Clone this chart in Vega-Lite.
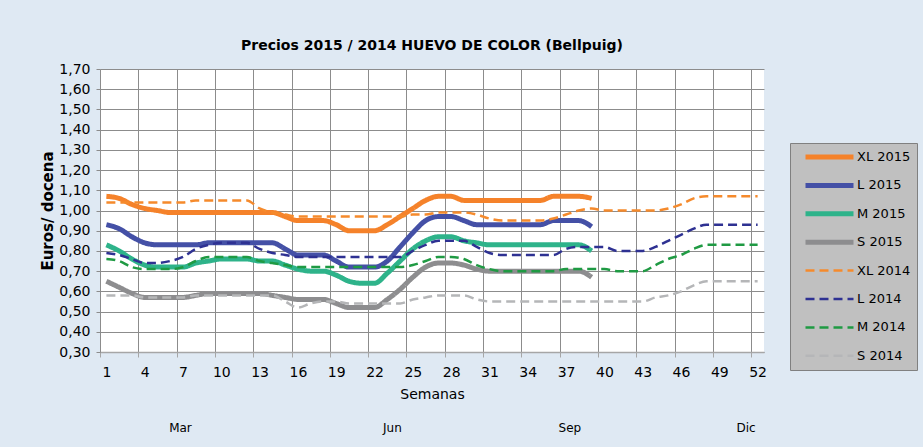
{
"$schema": "https://vega.github.io/schema/vega-lite/v6.json",
"width": 664, "height": 283,
"autosize": {"type": "none"},
"padding": {"left": 100, "top": 69, "right": 159, "bottom": 95},
"background": "#dfe9f3",
"title": {"text": "Precios 2015 / 2014 HUEVO DE COLOR (Bellpuig)", "font": "DejaVu Sans", "fontSize": 14, "fontWeight": "bold", "color": "#000000", "anchor": "middle", "offset": 9},
"config": {"view": {"fill": "white", "stroke": null}, "font": "DejaVu Sans"},
"datasets": {
"precios": [
{"semana":1,"serie":"XL 2015","precio":1.07},{"semana":2,"serie":"XL 2015","precio":1.06},{"semana":3,"serie":"XL 2015","precio":1.03},{"semana":4,"serie":"XL 2015","precio":1.01},{"semana":5,"serie":"XL 2015","precio":1.00},{"semana":6,"serie":"XL 2015","precio":0.99},{"semana":7,"serie":"XL 2015","precio":0.99},{"semana":8,"serie":"XL 2015","precio":0.99},{"semana":9,"serie":"XL 2015","precio":0.99},{"semana":10,"serie":"XL 2015","precio":0.99},{"semana":11,"serie":"XL 2015","precio":0.99},{"semana":12,"serie":"XL 2015","precio":0.99},{"semana":13,"serie":"XL 2015","precio":0.99},{"semana":14,"serie":"XL 2015","precio":0.99},{"semana":15,"serie":"XL 2015","precio":0.97},{"semana":16,"serie":"XL 2015","precio":0.95},{"semana":17,"serie":"XL 2015","precio":0.95},{"semana":18,"serie":"XL 2015","precio":0.95},{"semana":19,"serie":"XL 2015","precio":0.93},{"semana":20,"serie":"XL 2015","precio":0.90},{"semana":21,"serie":"XL 2015","precio":0.90},{"semana":22,"serie":"XL 2015","precio":0.90},{"semana":23,"serie":"XL 2015","precio":0.93},{"semana":24,"serie":"XL 2015","precio":0.97},{"semana":25,"serie":"XL 2015","precio":1.01},{"semana":26,"serie":"XL 2015","precio":1.05},{"semana":27,"serie":"XL 2015","precio":1.07},{"semana":28,"serie":"XL 2015","precio":1.07},{"semana":29,"serie":"XL 2015","precio":1.05},{"semana":30,"serie":"XL 2015","precio":1.05},{"semana":31,"serie":"XL 2015","precio":1.05},{"semana":32,"serie":"XL 2015","precio":1.05},{"semana":33,"serie":"XL 2015","precio":1.05},{"semana":34,"serie":"XL 2015","precio":1.05},{"semana":35,"serie":"XL 2015","precio":1.05},{"semana":36,"serie":"XL 2015","precio":1.07},{"semana":37,"serie":"XL 2015","precio":1.07},{"semana":38,"serie":"XL 2015","precio":1.07},{"semana":39,"serie":"XL 2015","precio":1.06},
{"semana":1,"serie":"L 2015","precio":0.93},{"semana":2,"serie":"L 2015","precio":0.91},{"semana":3,"serie":"L 2015","precio":0.87},{"semana":4,"serie":"L 2015","precio":0.84},{"semana":5,"serie":"L 2015","precio":0.83},{"semana":6,"serie":"L 2015","precio":0.83},{"semana":7,"serie":"L 2015","precio":0.83},{"semana":8,"serie":"L 2015","precio":0.83},{"semana":9,"serie":"L 2015","precio":0.84},{"semana":10,"serie":"L 2015","precio":0.84},{"semana":11,"serie":"L 2015","precio":0.84},{"semana":12,"serie":"L 2015","precio":0.84},{"semana":13,"serie":"L 2015","precio":0.84},{"semana":14,"serie":"L 2015","precio":0.84},{"semana":15,"serie":"L 2015","precio":0.81},{"semana":16,"serie":"L 2015","precio":0.78},{"semana":17,"serie":"L 2015","precio":0.78},{"semana":18,"serie":"L 2015","precio":0.78},{"semana":19,"serie":"L 2015","precio":0.75},{"semana":20,"serie":"L 2015","precio":0.72},{"semana":21,"serie":"L 2015","precio":0.72},{"semana":22,"serie":"L 2015","precio":0.72},{"semana":23,"serie":"L 2015","precio":0.75},{"semana":24,"serie":"L 2015","precio":0.82},{"semana":25,"serie":"L 2015","precio":0.89},{"semana":26,"serie":"L 2015","precio":0.95},{"semana":27,"serie":"L 2015","precio":0.97},{"semana":28,"serie":"L 2015","precio":0.97},{"semana":29,"serie":"L 2015","precio":0.95},{"semana":30,"serie":"L 2015","precio":0.93},{"semana":31,"serie":"L 2015","precio":0.93},{"semana":32,"serie":"L 2015","precio":0.93},{"semana":33,"serie":"L 2015","precio":0.93},{"semana":34,"serie":"L 2015","precio":0.93},{"semana":35,"serie":"L 2015","precio":0.93},{"semana":36,"serie":"L 2015","precio":0.95},{"semana":37,"serie":"L 2015","precio":0.95},{"semana":38,"serie":"L 2015","precio":0.95},{"semana":39,"serie":"L 2015","precio":0.92},
{"semana":1,"serie":"M 2015","precio":0.83},{"semana":2,"serie":"M 2015","precio":0.80},{"semana":3,"serie":"M 2015","precio":0.76},{"semana":4,"serie":"M 2015","precio":0.73},{"semana":5,"serie":"M 2015","precio":0.72},{"semana":6,"serie":"M 2015","precio":0.72},{"semana":7,"serie":"M 2015","precio":0.72},{"semana":8,"serie":"M 2015","precio":0.74},{"semana":9,"serie":"M 2015","precio":0.75},{"semana":10,"serie":"M 2015","precio":0.76},{"semana":11,"serie":"M 2015","precio":0.76},{"semana":12,"serie":"M 2015","precio":0.76},{"semana":13,"serie":"M 2015","precio":0.75},{"semana":14,"serie":"M 2015","precio":0.75},{"semana":15,"serie":"M 2015","precio":0.73},{"semana":16,"serie":"M 2015","precio":0.71},{"semana":17,"serie":"M 2015","precio":0.70},{"semana":18,"serie":"M 2015","precio":0.70},{"semana":19,"serie":"M 2015","precio":0.68},{"semana":20,"serie":"M 2015","precio":0.65},{"semana":21,"serie":"M 2015","precio":0.64},{"semana":22,"serie":"M 2015","precio":0.64},{"semana":23,"serie":"M 2015","precio":0.69},{"semana":24,"serie":"M 2015","precio":0.75},{"semana":25,"serie":"M 2015","precio":0.81},{"semana":26,"serie":"M 2015","precio":0.85},{"semana":27,"serie":"M 2015","precio":0.87},{"semana":28,"serie":"M 2015","precio":0.87},{"semana":29,"serie":"M 2015","precio":0.85},{"semana":30,"serie":"M 2015","precio":0.84},{"semana":31,"serie":"M 2015","precio":0.83},{"semana":32,"serie":"M 2015","precio":0.83},{"semana":33,"serie":"M 2015","precio":0.83},{"semana":34,"serie":"M 2015","precio":0.83},{"semana":35,"serie":"M 2015","precio":0.83},{"semana":36,"serie":"M 2015","precio":0.83},{"semana":37,"serie":"M 2015","precio":0.83},{"semana":38,"serie":"M 2015","precio":0.83},{"semana":39,"serie":"M 2015","precio":0.80},
{"semana":1,"serie":"S 2015","precio":0.65},{"semana":2,"serie":"S 2015","precio":0.62},{"semana":3,"serie":"S 2015","precio":0.59},{"semana":4,"serie":"S 2015","precio":0.57},{"semana":5,"serie":"S 2015","precio":0.57},{"semana":6,"serie":"S 2015","precio":0.57},{"semana":7,"serie":"S 2015","precio":0.57},{"semana":8,"serie":"S 2015","precio":0.58},{"semana":9,"serie":"S 2015","precio":0.59},{"semana":10,"serie":"S 2015","precio":0.59},{"semana":11,"serie":"S 2015","precio":0.59},{"semana":12,"serie":"S 2015","precio":0.59},{"semana":13,"serie":"S 2015","precio":0.59},{"semana":14,"serie":"S 2015","precio":0.58},{"semana":15,"serie":"S 2015","precio":0.57},{"semana":16,"serie":"S 2015","precio":0.56},{"semana":17,"serie":"S 2015","precio":0.56},{"semana":18,"serie":"S 2015","precio":0.56},{"semana":19,"serie":"S 2015","precio":0.54},{"semana":20,"serie":"S 2015","precio":0.52},{"semana":21,"serie":"S 2015","precio":0.52},{"semana":22,"serie":"S 2015","precio":0.52},{"semana":23,"serie":"S 2015","precio":0.56},{"semana":24,"serie":"S 2015","precio":0.61},{"semana":25,"serie":"S 2015","precio":0.67},{"semana":26,"serie":"S 2015","precio":0.72},{"semana":27,"serie":"S 2015","precio":0.74},{"semana":28,"serie":"S 2015","precio":0.74},{"semana":29,"serie":"S 2015","precio":0.73},{"semana":30,"serie":"S 2015","precio":0.71},{"semana":31,"serie":"S 2015","precio":0.70},{"semana":32,"serie":"S 2015","precio":0.70},{"semana":33,"serie":"S 2015","precio":0.70},{"semana":34,"serie":"S 2015","precio":0.70},{"semana":35,"serie":"S 2015","precio":0.70},{"semana":36,"serie":"S 2015","precio":0.70},{"semana":37,"serie":"S 2015","precio":0.70},{"semana":38,"serie":"S 2015","precio":0.70},{"semana":39,"serie":"S 2015","precio":0.67},
{"semana":1,"serie":"XL 2014","precio":1.04},{"semana":2,"serie":"XL 2014","precio":1.04},{"semana":3,"serie":"XL 2014","precio":1.04},{"semana":4,"serie":"XL 2014","precio":1.04},{"semana":5,"serie":"XL 2014","precio":1.04},{"semana":6,"serie":"XL 2014","precio":1.04},{"semana":7,"serie":"XL 2014","precio":1.04},{"semana":8,"serie":"XL 2014","precio":1.05},{"semana":9,"serie":"XL 2014","precio":1.05},{"semana":10,"serie":"XL 2014","precio":1.05},{"semana":11,"serie":"XL 2014","precio":1.05},{"semana":12,"serie":"XL 2014","precio":1.05},{"semana":13,"serie":"XL 2014","precio":1.01},{"semana":14,"serie":"XL 2014","precio":0.99},{"semana":15,"serie":"XL 2014","precio":0.98},{"semana":16,"serie":"XL 2014","precio":0.97},{"semana":17,"serie":"XL 2014","precio":0.97},{"semana":18,"serie":"XL 2014","precio":0.97},{"semana":19,"serie":"XL 2014","precio":0.97},{"semana":20,"serie":"XL 2014","precio":0.97},{"semana":21,"serie":"XL 2014","precio":0.97},{"semana":22,"serie":"XL 2014","precio":0.97},{"semana":23,"serie":"XL 2014","precio":0.97},{"semana":24,"serie":"XL 2014","precio":0.97},{"semana":25,"serie":"XL 2014","precio":0.98},{"semana":26,"serie":"XL 2014","precio":0.98},{"semana":27,"serie":"XL 2014","precio":0.99},{"semana":28,"serie":"XL 2014","precio":0.99},{"semana":29,"serie":"XL 2014","precio":0.99},{"semana":30,"serie":"XL 2014","precio":0.98},{"semana":31,"serie":"XL 2014","precio":0.96},{"semana":32,"serie":"XL 2014","precio":0.95},{"semana":33,"serie":"XL 2014","precio":0.95},{"semana":34,"serie":"XL 2014","precio":0.95},{"semana":35,"serie":"XL 2014","precio":0.95},{"semana":36,"serie":"XL 2014","precio":0.96},{"semana":37,"serie":"XL 2014","precio":0.98},{"semana":38,"serie":"XL 2014","precio":1.00},{"semana":39,"serie":"XL 2014","precio":1.01},{"semana":40,"serie":"XL 2014","precio":1.00},{"semana":41,"serie":"XL 2014","precio":1.00},{"semana":42,"serie":"XL 2014","precio":1.00},{"semana":43,"serie":"XL 2014","precio":1.00},{"semana":44,"serie":"XL 2014","precio":1.00},{"semana":45,"serie":"XL 2014","precio":1.01},{"semana":46,"serie":"XL 2014","precio":1.03},{"semana":47,"serie":"XL 2014","precio":1.06},{"semana":48,"serie":"XL 2014","precio":1.07},{"semana":49,"serie":"XL 2014","precio":1.07},{"semana":50,"serie":"XL 2014","precio":1.07},{"semana":51,"serie":"XL 2014","precio":1.07},{"semana":52,"serie":"XL 2014","precio":1.07},
{"semana":1,"serie":"L 2014","precio":0.79},{"semana":2,"serie":"L 2014","precio":0.78},{"semana":3,"serie":"L 2014","precio":0.76},{"semana":4,"serie":"L 2014","precio":0.74},{"semana":5,"serie":"L 2014","precio":0.74},{"semana":6,"serie":"L 2014","precio":0.75},{"semana":7,"serie":"L 2014","precio":0.77},{"semana":8,"serie":"L 2014","precio":0.81},{"semana":9,"serie":"L 2014","precio":0.83},{"semana":10,"serie":"L 2014","precio":0.84},{"semana":11,"serie":"L 2014","precio":0.84},{"semana":12,"serie":"L 2014","precio":0.84},{"semana":13,"serie":"L 2014","precio":0.81},{"semana":14,"serie":"L 2014","precio":0.79},{"semana":15,"serie":"L 2014","precio":0.78},{"semana":16,"serie":"L 2014","precio":0.77},{"semana":17,"serie":"L 2014","precio":0.77},{"semana":18,"serie":"L 2014","precio":0.77},{"semana":19,"serie":"L 2014","precio":0.77},{"semana":20,"serie":"L 2014","precio":0.77},{"semana":21,"serie":"L 2014","precio":0.77},{"semana":22,"serie":"L 2014","precio":0.77},{"semana":23,"serie":"L 2014","precio":0.77},{"semana":24,"serie":"L 2014","precio":0.77},{"semana":25,"serie":"L 2014","precio":0.80},{"semana":26,"serie":"L 2014","precio":0.83},{"semana":27,"serie":"L 2014","precio":0.85},{"semana":28,"serie":"L 2014","precio":0.85},{"semana":29,"serie":"L 2014","precio":0.85},{"semana":30,"serie":"L 2014","precio":0.82},{"semana":31,"serie":"L 2014","precio":0.79},{"semana":32,"serie":"L 2014","precio":0.78},{"semana":33,"serie":"L 2014","precio":0.78},{"semana":34,"serie":"L 2014","precio":0.78},{"semana":35,"serie":"L 2014","precio":0.78},{"semana":36,"serie":"L 2014","precio":0.78},{"semana":37,"serie":"L 2014","precio":0.81},{"semana":38,"serie":"L 2014","precio":0.82},{"semana":39,"serie":"L 2014","precio":0.82},{"semana":40,"serie":"L 2014","precio":0.82},{"semana":41,"serie":"L 2014","precio":0.80},{"semana":42,"serie":"L 2014","precio":0.80},{"semana":43,"serie":"L 2014","precio":0.80},{"semana":44,"serie":"L 2014","precio":0.82},{"semana":45,"serie":"L 2014","precio":0.85},{"semana":46,"serie":"L 2014","precio":0.88},{"semana":47,"serie":"L 2014","precio":0.91},{"semana":48,"serie":"L 2014","precio":0.93},{"semana":49,"serie":"L 2014","precio":0.93},{"semana":50,"serie":"L 2014","precio":0.93},{"semana":51,"serie":"L 2014","precio":0.93},{"semana":52,"serie":"L 2014","precio":0.93},
{"semana":1,"serie":"M 2014","precio":0.76},{"semana":2,"serie":"M 2014","precio":0.75},{"semana":3,"serie":"M 2014","precio":0.72},{"semana":4,"serie":"M 2014","precio":0.71},{"semana":5,"serie":"M 2014","precio":0.71},{"semana":6,"serie":"M 2014","precio":0.71},{"semana":7,"serie":"M 2014","precio":0.72},{"semana":8,"serie":"M 2014","precio":0.75},{"semana":9,"serie":"M 2014","precio":0.77},{"semana":10,"serie":"M 2014","precio":0.77},{"semana":11,"serie":"M 2014","precio":0.77},{"semana":12,"serie":"M 2014","precio":0.77},{"semana":13,"serie":"M 2014","precio":0.75},{"semana":14,"serie":"M 2014","precio":0.74},{"semana":15,"serie":"M 2014","precio":0.73},{"semana":16,"serie":"M 2014","precio":0.72},{"semana":17,"serie":"M 2014","precio":0.72},{"semana":18,"serie":"M 2014","precio":0.72},{"semana":19,"serie":"M 2014","precio":0.72},{"semana":20,"serie":"M 2014","precio":0.72},{"semana":21,"serie":"M 2014","precio":0.72},{"semana":22,"serie":"M 2014","precio":0.72},{"semana":23,"serie":"M 2014","precio":0.72},{"semana":24,"serie":"M 2014","precio":0.72},{"semana":25,"serie":"M 2014","precio":0.73},{"semana":26,"serie":"M 2014","precio":0.75},{"semana":27,"serie":"M 2014","precio":0.77},{"semana":28,"serie":"M 2014","precio":0.77},{"semana":29,"serie":"M 2014","precio":0.76},{"semana":30,"serie":"M 2014","precio":0.73},{"semana":31,"serie":"M 2014","precio":0.71},{"semana":32,"serie":"M 2014","precio":0.70},{"semana":33,"serie":"M 2014","precio":0.70},{"semana":34,"serie":"M 2014","precio":0.70},{"semana":35,"serie":"M 2014","precio":0.70},{"semana":36,"serie":"M 2014","precio":0.70},{"semana":37,"serie":"M 2014","precio":0.71},{"semana":38,"serie":"M 2014","precio":0.71},{"semana":39,"serie":"M 2014","precio":0.71},{"semana":40,"serie":"M 2014","precio":0.71},{"semana":41,"serie":"M 2014","precio":0.70},{"semana":42,"serie":"M 2014","precio":0.70},{"semana":43,"serie":"M 2014","precio":0.70},{"semana":44,"serie":"M 2014","precio":0.73},{"semana":45,"serie":"M 2014","precio":0.76},{"semana":46,"serie":"M 2014","precio":0.78},{"semana":47,"serie":"M 2014","precio":0.81},{"semana":48,"serie":"M 2014","precio":0.83},{"semana":49,"serie":"M 2014","precio":0.83},{"semana":50,"serie":"M 2014","precio":0.83},{"semana":51,"serie":"M 2014","precio":0.83},{"semana":52,"serie":"M 2014","precio":0.83},
{"semana":1,"serie":"S 2014","precio":0.58},{"semana":2,"serie":"S 2014","precio":0.58},{"semana":3,"serie":"S 2014","precio":0.58},{"semana":4,"serie":"S 2014","precio":0.57},{"semana":5,"serie":"S 2014","precio":0.57},{"semana":6,"serie":"S 2014","precio":0.57},{"semana":7,"serie":"S 2014","precio":0.57},{"semana":8,"serie":"S 2014","precio":0.58},{"semana":9,"serie":"S 2014","precio":0.58},{"semana":10,"serie":"S 2014","precio":0.58},{"semana":11,"serie":"S 2014","precio":0.58},{"semana":12,"serie":"S 2014","precio":0.58},{"semana":13,"serie":"S 2014","precio":0.58},{"semana":14,"serie":"S 2014","precio":0.58},{"semana":15,"serie":"S 2014","precio":0.55},{"semana":16,"serie":"S 2014","precio":0.52},{"semana":17,"serie":"S 2014","precio":0.54},{"semana":18,"serie":"S 2014","precio":0.55},{"semana":19,"serie":"S 2014","precio":0.55},{"semana":20,"serie":"S 2014","precio":0.54},{"semana":21,"serie":"S 2014","precio":0.54},{"semana":22,"serie":"S 2014","precio":0.54},{"semana":23,"serie":"S 2014","precio":0.54},{"semana":24,"serie":"S 2014","precio":0.54},{"semana":25,"serie":"S 2014","precio":0.56},{"semana":26,"serie":"S 2014","precio":0.57},{"semana":27,"serie":"S 2014","precio":0.58},{"semana":28,"serie":"S 2014","precio":0.58},{"semana":29,"serie":"S 2014","precio":0.58},{"semana":30,"serie":"S 2014","precio":0.56},{"semana":31,"serie":"S 2014","precio":0.55},{"semana":32,"serie":"S 2014","precio":0.55},{"semana":33,"serie":"S 2014","precio":0.55},{"semana":34,"serie":"S 2014","precio":0.55},{"semana":35,"serie":"S 2014","precio":0.55},{"semana":36,"serie":"S 2014","precio":0.55},{"semana":37,"serie":"S 2014","precio":0.55},{"semana":38,"serie":"S 2014","precio":0.55},{"semana":39,"serie":"S 2014","precio":0.55},{"semana":40,"serie":"S 2014","precio":0.55},{"semana":41,"serie":"S 2014","precio":0.55},{"semana":42,"serie":"S 2014","precio":0.55},{"semana":43,"serie":"S 2014","precio":0.55},{"semana":44,"serie":"S 2014","precio":0.57},{"semana":45,"serie":"S 2014","precio":0.58},{"semana":46,"serie":"S 2014","precio":0.60},{"semana":47,"serie":"S 2014","precio":0.63},{"semana":48,"serie":"S 2014","precio":0.65},{"semana":49,"serie":"S 2014","precio":0.65},{"semana":50,"serie":"S 2014","precio":0.65},{"semana":51,"serie":"S 2014","precio":0.65},{"semana":52,"serie":"S 2014","precio":0.65}
],
"meses": [{"mes":"Mar","semana":6.8},{"mes":"Jun","semana":23.4},{"mes":"Sep","semana":37.3},{"mes":"Dic","semana":51.1}]
},
"layer": [
{
"data": {"name": "precios"},
"mark": {"type": "line", "interpolate": "monotone", "strokeCap": "butt", "strokeJoin": "round"},
"encoding": {
"x": {"field": "semana", "type": "quantitative", "scale": {"domain": [0.5, 52.5], "nice": false, "zero": false},
 "axis": {"orient": "bottom", "values": [1,4,7,10,13,16,19,22,25,28,31,34,37,40,43,46,49,52], "tickCount": 18, "grid": false, "ticks": false, "domain": true, "domainColor": "#a6a6a6", "domainWidth": 1.5, "labelFont": "DejaVu Sans", "labelFontSize": 14, "labelColor": "#000000", "labelPadding": 13, "labelFlush": false, "labelOverlap": false, "title": "Semanas", "titleFont": "DejaVu Sans", "titleFontSize": 14, "titleFontWeight": "normal", "titleColor": "#000000", "titlePadding": 8}},
"y": {"field": "precio", "type": "quantitative", "scale": {"domain": [0.3, 1.7], "nice": false, "zero": false},
 "axis": {"values": [0.3,0.4,0.5,0.6,0.7,0.8,0.9,1.0,1.1,1.2,1.3,1.4,1.5,1.6,1.7], "tickCount": 15, "labelExpr": "replace(format(datum.value, '.2f'), '.', ',')", "grid": true, "gridColor": "#8c8c8c", "gridWidth": 1, "ticks": true, "tickColor": "#8c8c8c", "tickSize": 4, "domain": true, "domainColor": "#8c8c8c", "labelFont": "DejaVu Sans", "labelFontSize": 14, "labelColor": "#000000", "labelPadding": 6, "labelFlush": false, "labelOverlap": false, "title": "Euros/ docena", "titleFont": "DejaVu Sans", "titleFontSize": 15, "titleFontWeight": "bold", "titleColor": "#000000", "titlePadding": 3}},
"color": {"field": "serie", "type": "nominal",
 "scale": {"domain": ["XL 2015","L 2015","M 2015","S 2015","XL 2014","L 2014","M 2014","S 2014"], "range": ["#f5822a","#4450a6","#2eb38a","#8d8d8f","#f58a2c","#2e3192","#1f9a43","#b5b6b8"]},
 "legend": {"title": null, "orient": "none", "legendX": 690, "legendY": 74, "fillColor": "#c0c0c0", "strokeColor": "#808080", "padding": 6, "clipHeight": 16, "rowPadding": 12.4, "symbolType": "stroke", "symbolSize": 2304, "symbolOffset": 7, "labelOffset": 1, "labelFont": "DejaVu Sans", "labelFontSize": 13, "labelColor": "#000000"}},
"strokeDash": {"field": "serie", "type": "nominal",
 "scale": {"domain": ["XL 2015","L 2015","M 2015","S 2015","XL 2014","L 2014","M 2014","S 2014"], "range": [[1,0],[1,0],[1,0],[1,0],[9,5],[9,5],[9,5],[9,5]]},
 "legend": {"title": null, "orient": "none", "legendX": 690, "legendY": 74, "fillColor": "#c0c0c0", "strokeColor": "#808080", "padding": 6, "clipHeight": 16, "rowPadding": 12.4, "symbolType": "stroke", "symbolSize": 2304, "symbolOffset": 7, "labelOffset": 1, "labelFont": "DejaVu Sans", "labelFontSize": 13, "labelColor": "#000000"}},
"strokeWidth": {"field": "serie", "type": "nominal",
 "scale": {"type": "ordinal", "domain": ["XL 2015","L 2015","M 2015","S 2015","XL 2014","L 2014","M 2014","S 2014"], "range": [5,5,5,5,2.5,2.5,2.5,2.5]},
 "legend": {"title": null, "orient": "none", "legendX": 690, "legendY": 74, "fillColor": "#c0c0c0", "strokeColor": "#808080", "padding": 6, "clipHeight": 16, "rowPadding": 12.4, "symbolType": "stroke", "symbolSize": 2304, "symbolOffset": 7, "labelOffset": 1, "labelFont": "DejaVu Sans", "labelFontSize": 13, "labelColor": "#000000"}}
}
},
{
"data": {"name": "meses"},
"mark": {"type": "text", "font": "DejaVu Sans", "fontSize": 12, "color": "#000000"},
"encoding": {
"x": {"field": "semana", "type": "quantitative",
 "axis": {"orient": "bottom", "values": [0.5,3.5,6.5,9.5,12.5,15.5,18.5,21.5,24.5,27.5,30.5,33.5,36.5,39.5,42.5,45.5,48.5,51.5], "tickCount": 18, "grid": true, "gridColor": "#8c8c8c", "gridWidth": 1, "ticks": true, "tickSize": 5, "tickColor": "#a6a6a6", "labels": false, "domain": false, "title": null}},
"y": {"datum": -0.075},
"text": {"field": "mes", "type": "nominal"}
}
}
],
"resolve": {"axis": {"x": "independent"}}
}
